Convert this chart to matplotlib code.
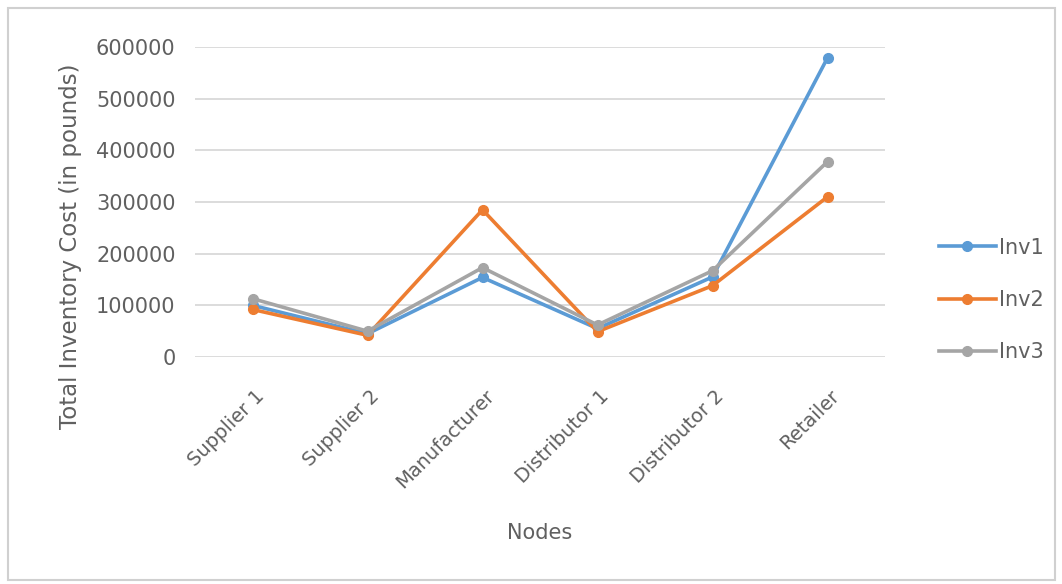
import numpy as np
import matplotlib
matplotlib.use("Agg")
import matplotlib.pyplot as plt
import matplotlib.transforms as mtrans
from matplotlib.patches import Rectangle

nodes = ["Supplier 1", "Supplier 2", "Manufacturer", "Distributor 1", "Distributor 2", "Retailer"]
inv1 = [100000, 45000, 154000, 55000, 155000, 579000]
inv2 = [92000, 42000, 285000, 49000, 138000, 310000]
inv3 = [113000, 50000, 173000, 62000, 167000, 378000]
yticks = [0, 100000, 200000, 300000, 400000, 500000, 600000]

plt.rcParams['font.family'] = ['DejaVu Sans']
txt = '#606060'

fig = plt.figure(figsize=(10.62, 5.84), dpi=100)
fig.patches.append(Rectangle((8/1062, 4/584), 1047/1062, 572/584, transform=fig.transFigure,
                             fill=False, edgecolor='#d0d0d0', linewidth=1.5))
ax = fig.add_axes([195/1062, 1-357/584, 690/1062, 310/584])

x = np.arange(len(nodes))
ax.plot(x, inv1, color='#5B9BD5', lw=2.6, marker='o', ms=7, label='Inv1', zorder=3)
ax.plot(x, inv2, color='#ED7D31', lw=2.6, marker='o', ms=7, label='Inv2', zorder=3)
ax.plot(x, inv3, color='#A5A5A5', lw=2.6, marker='o', ms=7, label='Inv3', zorder=3)

ax.set_xlim(-0.5, len(nodes) - 0.5)
ax.set_ylim(0, 600000)
ax.set_yticks(yticks)
ax.set_yticklabels([str(v) for v in yticks], fontsize=15, color=txt)
ax.set_xticks(x)
ax.set_xticklabels(nodes, rotation=45, ha='right', rotation_mode='anchor', fontsize=14, color=txt)
ax.tick_params(axis='y', length=0, pad=14)
ax.tick_params(axis='x', length=0, pad=21)
shift = mtrans.ScaledTranslation(2/100, 0, fig.dpi_scale_trans)
for lab in ax.get_xticklabels():
    lab.set_transform(lab.get_transform() + shift)
ax.grid(axis='y', color='#d9d9d9', lw=1.3)
ax.set_axisbelow(True)
for s in ax.spines.values():
    s.set_visible(False)

fig.text(540/1062, 1-533/584, 'Nodes', fontsize=15, color=txt, ha='center', va='center')
fig.text(71/1062, 1-246/584, 'Total Inventory Cost (in pounds)', fontsize=16.5, color=txt,
         rotation=90, ha='center', va='center')

ax.legend(loc='center left', bbox_to_anchor=(920/1062, 1-300/584), bbox_transform=fig.transFigure,
          frameon=False, fontsize=15, labelcolor=txt, handlelength=2.75, labelspacing=1.55,
          handletextpad=0.15)

fig.savefig('out.png', dpi=100)
